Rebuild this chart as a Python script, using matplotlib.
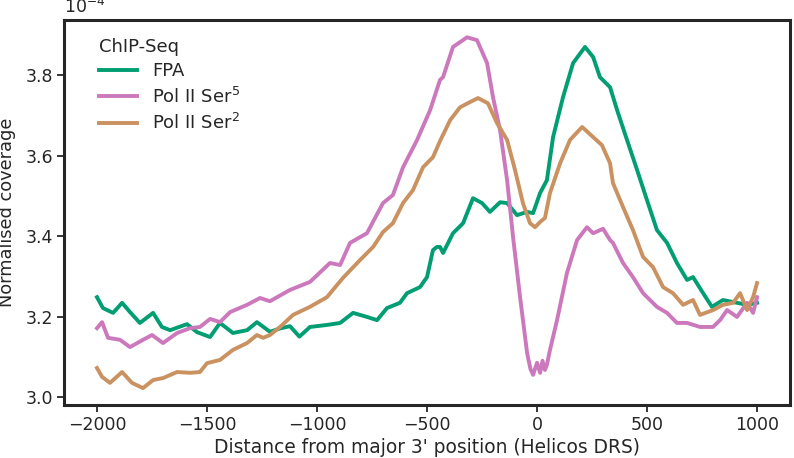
import matplotlib
matplotlib.use("Agg")
import matplotlib.pyplot as plt

# values in units of 1e-4
fpa_x = [-2000, -1973, -1927, -1886, -1850, -1805, -1745, -1705, -1668, -1591, -1545, -1486,
         -1441, -1382, -1318, -1273, -1214, -1170, -1123, -1080, -1032, -955, -895, -836,
         -773, -727, -682, -623, -591, -532, -500, -473, -455, -441, -427, -382, -336,
         -291, -250, -214, -168, -136, -91, -45, -18, 14, 45, 73, 118, 164, 218, 255,
         286, 332, 364, 409, 455, 500, 545, 591, 636, 682, 709, 755, 795, 845, 891, 955, 1000]
fpa_y = [3.248, 3.221, 3.209, 3.234, 3.211, 3.184, 3.209, 3.174, 3.166, 3.181, 3.161, 3.149,
         3.184, 3.159, 3.166, 3.186, 3.162, 3.170, 3.176, 3.150, 3.174, 3.179, 3.184, 3.209,
         3.199, 3.191, 3.221, 3.234, 3.258, 3.273, 3.298, 3.365, 3.373, 3.373, 3.358, 3.407, 3.432,
         3.494, 3.482, 3.460, 3.484, 3.482, 3.452, 3.460, 3.457, 3.507, 3.539, 3.646, 3.745, 3.830, 3.870, 3.845,
         3.795, 3.770, 3.713, 3.639, 3.564, 3.489, 3.415, 3.383, 3.333, 3.291, 3.298, 3.258, 3.224, 3.241, 3.236, 3.229, 3.234]

ser5_x = [-2000, -1977, -1950, -1895, -1850, -1791, -1750, -1700, -1636, -1577, -1532, -1486,
          -1441, -1395, -1318, -1259, -1214, -1123, -1032, -941, -895, -850, -773, -700,
          -655, -609, -545, -486, -441, -427, -382, -318, -273, -227, -200, -168, -136,
          -109, -77, -45, -30, -18, 0, 14, 25, 36, 45, 59, 91, 136, 182, 227, 255, 300,
          332, 345, 391, 436, 482, 545, 591, 636, 682, 741, 800, 832, 864, 909, 955, 982, 1000]
ser5_y = [3.171, 3.186, 3.147, 3.142, 3.124, 3.142, 3.154, 3.134, 3.159, 3.171, 3.174, 3.194,
          3.186, 3.211, 3.229, 3.246, 3.238, 3.266, 3.286, 3.333, 3.328, 3.383, 3.407, 3.482,
          3.502, 3.571, 3.639, 3.713, 3.788, 3.795, 3.870, 3.894, 3.887, 3.830, 3.745, 3.663, 3.539,
          3.398, 3.248, 3.109, 3.070, 3.055, 3.085, 3.060, 3.090, 3.067, 3.080, 3.117, 3.191, 3.308, 3.390, 3.422, 3.407, 3.418,
          3.390, 3.383, 3.333, 3.298, 3.258, 3.224, 3.209, 3.184, 3.184, 3.174, 3.174, 3.191, 3.216, 3.199, 3.234, 3.209, 3.248]

ser2_x = [-2000, -1977, -1941, -1886, -1841, -1791, -1745, -1700, -1636, -1577, -1532, -1500,
          -1441, -1382, -1318, -1273, -1245, -1214, -1168, -1109, -1032, -955, -882, -805,
          -745, -700, -655, -609, -564, -518, -473, -441, -395, -350, -305, -268, -223,
          -182, -136, -100, -64, -32, -9, 14, 36, 59, 105, 150, 205, 255, 295, 332, 345,
          391, 436, 482, 527, 573, 618, 664, 709, 741, 800, 845, 891, 923, 955, 982, 1000]
ser2_y = [3.072, 3.050, 3.035, 3.062, 3.035, 3.022, 3.042, 3.047, 3.062, 3.060, 3.062, 3.084,
          3.092, 3.117, 3.134, 3.154, 3.147, 3.154, 3.174, 3.204, 3.224, 3.248, 3.296, 3.340,
          3.373, 3.410, 3.432, 3.482, 3.514, 3.571, 3.596, 3.636, 3.688, 3.720, 3.733, 3.743, 3.730,
          3.681, 3.639, 3.564, 3.482, 3.432, 3.422, 3.435, 3.445, 3.507, 3.581, 3.639, 3.671, 3.646, 3.626, 3.581, 3.532,
          3.472, 3.415, 3.348, 3.323, 3.273, 3.258, 3.229, 3.241, 3.204, 3.216, 3.229, 3.234, 3.258, 3.216, 3.248, 3.283]

series_labels = ["FPA", "Pol II Ser$^5$", "Pol II Ser$^2$"]
colors = ["#029e73", "#cc78bc", "#ca9161"]
x_ticks = [-2000, -1500, -1000, -500, 0, 500, 1000]
y_ticks = [3.0, 3.2, 3.4, 3.6, 3.8]

plt.rcParams['font.family'] = ['DejaVu Sans']
plt.rcParams['mathtext.fontset'] = 'dejavusans'
text_color = "#262626"

fig = plt.figure(figsize=(7.94, 4.58), dpi=100)
ax = fig.add_axes([0.0806, 0.1157, 0.9144, 0.8406])

for xs, ys, lab, c in zip([fpa_x, ser5_x, ser2_x], [fpa_y, ser5_y, ser2_y], series_labels, colors):
    ax.plot(xs, ys, color=c, lw=2.8, label=lab)

ax.set_xlim(-2150, 1150)
ax.set_ylim(2.980, 3.937)
ax.set_xticks(x_ticks)
ax.set_xticklabels([f"{t}".replace("-", "\u2212") for t in x_ticks])
ax.set_yticks(y_ticks)
ax.set_yticklabels([f"{t:.1f}" for t in y_ticks])

for s in ax.spines.values():
    s.set_linewidth(2.2)
    s.set_color(text_color)
ax.tick_params(axis='both', labelsize=12.5, colors=text_color, length=5, width=1.3, pad=3)

ax.set_xlabel("Distance from major 3' position (Helicos DRS)", fontsize=13.4, color=text_color, labelpad=3)
ax.set_ylabel("Normalised coverage", fontsize=12.8, color=text_color, labelpad=7)

ax.text(0.0, 1.008, r"$\mathregular{10^{-4}}$", transform=ax.transAxes, fontsize=12.5,
        color=text_color, ha='left', va='bottom')

leg = ax.legend(title="ChIP-Seq", loc='upper left', frameon=False, fontsize=13,
                title_fontsize=13, handlelength=2.1, borderaxespad=0.6, labelspacing=0.35,
                bbox_to_anchor=(0.024, 1.0), alignment='left')
for t in leg.get_texts():
    t.set_color(text_color)
leg.get_title().set_color(text_color)

fig.savefig("out.png", dpi=100)
